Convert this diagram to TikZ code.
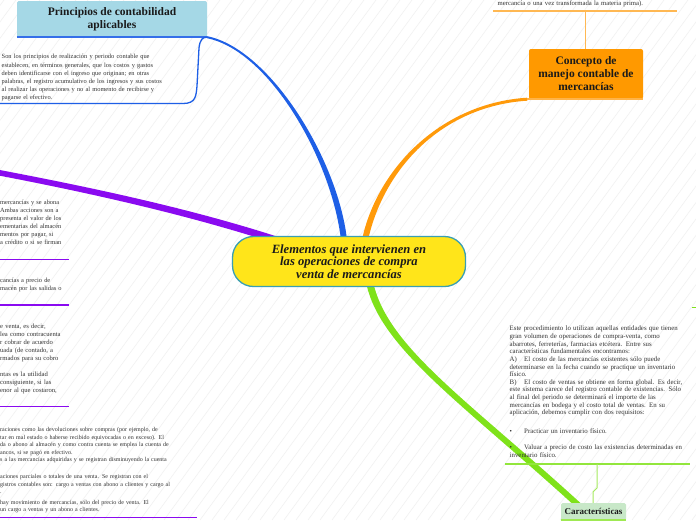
\documentclass[tikz,border=0pt]{standalone}
\usepackage{fontspec}
\setmainfont{Liberation Serif}
\usetikzlibrary{calc}
\definecolor{bluebr}{HTML}{1E5FE6}
\definecolor{orangebr}{HTML}{FF9A0A}
\definecolor{purplebr}{HTML}{8A0AF0}
\definecolor{greenbr}{HTML}{7FE21A}
\definecolor{boxblue}{HTML}{A5D8E6}
\definecolor{boxorange}{HTML}{FF9900}
\definecolor{boxgreen}{HTML}{C8E8C8}
\definecolor{centerfill}{HTML}{FFE51A}
\definecolor{centerline}{HTML}{3A9FB2}
\definecolor{txt}{HTML}{333333}
\definecolor{ttl}{HTML}{1A1A1A}
\definecolor{stripecol}{HTML}{F1F1F1}
\pgfdeclarelayer{bg}
\pgfsetlayers{bg,main}
\newcommand{\taper}[7]{%
  \path ($(#2)!#6!90:(#3)$) coordinate (tpa) ($(#2)!#6!-90:(#3)$) coordinate (tpb)
        ($(#5)!#7!-90:(#4)$) coordinate (tpc) ($(#5)!#7!90:(#4)$) coordinate (tpd);
  \fill[#1] (tpa) .. controls ($(#3)+(tpa)-(#2)$) and ($(#4)+(tpc)-(#5)$) .. (tpc)
     -- (tpd) .. controls ($(#4)+(tpd)-(#5)$) and ($(#3)+(tpb)-(#2)$) .. (tpb) -- cycle;
  \fill[#1] (#5) circle[radius=#7];
  \fill[#1] (#2) circle[radius=#6];
}
\tikzset{
  smalltext/.style 2 args={font=\fontsize{#1}{#2}\selectfont, text=txt, inner sep=0pt,
     align=left, text width=260pt, anchor=base west},
  topic/.style={font=\fontsize{11.5}{13}\selectfont\bfseries, text=ttl, align=center, inner sep=0pt},
  centernode/.style={fill=centerfill, draw=centerline, line width=1.3pt, rounded corners=21pt,
     minimum width=233pt, minimum height=50pt, align=center, inner sep=0pt, text=ttl,
     font=\fontsize{12.6}{12.5}\selectfont\bfseries\itshape},
  stripe/.style={draw=stripecol, line width=0.6pt},
  uline/.style={line width=1.3pt},
}
\begin{document}
\begin{tikzpicture}[x=1pt,y=-1pt]
\useasboundingbox (0,0) rectangle (696,520);
% nodes
\node[centernode] (center) at (349,261.5) {Elementos que intervienen en\\las operaciones de compra\\venta de mercancías};
\node[topic, fill=boxblue, minimum width=190pt, minimum height=36pt, rounded corners=1.5pt] (princ) at (112,19) {Principios de contabilidad\\aplicables};
\node[topic, fill=boxorange, minimum width=114pt, minimum height=50pt, rounded corners=2pt] (concepto) at (586,74) {Concepto de\\manejo contable de\\mercancías};
\node[topic, fill=boxgreen, minimum width=65pt, minimum height=17pt, rounded corners=1.5pt, font=\fontsize{9}{10}\selectfont\bfseries] (caract) at (593.5,511.5) {Características};
% text blocks
\node[smalltext={6.4}{8.2}] (tprinc) at (1.5,58.8) {Son los principios de realización y periodo contable que\\establecen, en términos generales, que los costos y gastos\\deben identificarse con el ingreso que originan; en otras\\palabras, el registro acumulativo de los ingresos y sus costos\\al realizar las operaciones y no al momento de recibirse y\\pagarse el efectivo.};
\node[smalltext={6.7}{7.6}] (tconc) at (497.5,5.8) {mercancía o una vez transformada la materia prima).};
\node[smalltext={6.4}{8}] (ta) at (0,204.8) {mercancías y se abona\\Ambas acciones son a\\presenta el valor de los\\ementarias del almacén\\mentos por pagar, si\\a crédito o si se firman};
\node[smalltext={6.4}{7.4}] (tb) at (0,282.8) {cancías a precio de\\macén por las salidas o};
\node[smalltext={6.6}{8}] (tc) at (0,328.5) {e venta, es decir,\\lea como contracuenta\\r cobrar de acuerdo\\uada (de contado, a\\rmados para su cobro\\[8pt]ntas es la utilidad\\consiguiente, si las\\enor al que costaron,};
\node[smalltext={6.0}{7.6}] (td) at (0,431.5) {raciones como las devoluciones sobre compras (por ejemplo, de\\tar en mal estado o haberse recibido equivocadas o en exceso). El\\da o abono al almacén y como contra cuenta se emplea la cuenta de\\ancos, si se pagó en efectivo.\\s a las mercancías adquiridas y se registran disminuyendo la cuenta\\[9pt]aciones parciales o totales de una venta. Se registran con el\\gistros contables son: cargo a ventas con abono a clientes y cargo al\\.\\[3pt] hay movimiento de mercancías, sólo del precio de venta. El\\ un cargo a ventas y un abono a clientes.};
\node[smalltext={6.85}{7.64}] (tcar) at (509.5,330.8) {Este procedimiento lo utilizan aquellas entidades que tienen\\gran volumen de operaciones de compra-venta, como\\abarrotes, ferreterías, farmacias etcétera. Entre sus\\características fundamentales encontramos:\\\makebox[14.5pt][l]{A)}El costo de las mercancías existentes sólo puede\\determinarse en la fecha cuando se practique un inventario\\físico.\\\makebox[14.5pt][l]{B)}El costo de ventas se obtiene en forma global. Es decir,\\este sistema carece del registro contable de existencias. Sólo\\al final del periodo se determinará el importe de las\\mercancías en bodega y el costo total de ventas. En su\\aplicación, debemos cumplir con dos requisitos:\\[11pt]\makebox[14.5pt][l]{•}Practicar un inventario físico.\\[8.5pt]\makebox[14.5pt][l]{•}Valuar a precio de costo las existencias determinadas en\\inventario físico.};
% coordinates
\coordinate (bS) at (344,240);
\coordinate (oS) at (365,240);
\coordinate (pS) at (300,248);
\coordinate (pE) at (-10,171);
\coordinate (gS) at (370,284);
\coordinate (gE) at (588,514);
\coordinate (oE) at ($(concepto.south west)+(-2,0)$);
\coordinate (blineL) at (0,103.5);
\coordinate (blineR) at (183,103.5);
\coordinate (olineL) at (493,11);
\coordinate (olineR) at (677,11);
\coordinate (olineM) at (585.5,11);
\coordinate (glineL) at (505,464);
\coordinate (glineR) at (690,464);
\coordinate (glineM) at (597,464);
\begin{pgfonlayer}{bg}
\begin{scope}
\clip (0,0) rectangle (696,520);
\fill[white] (0,0) rectangle (696,520);
\foreach \i in {-400,-388,...,700} \draw[stripe] (\i,520) -- ++(380,-520);
% main branches
\taper{bluebr}{bS}{335,160}{270,50}{princ.south east}{3pt}{1pt}
\taper{orangebr}{oS}{380,170}{440,105}{oE}{3pt}{1.5pt}
\taper{purplebr}{pS}{200,213}{80,188}{pE}{3.5pt}{2.8pt}
\taper{greenbr}{gS}{385,350}{470,405}{gE}{3.5pt}{3pt}
\end{scope}
\end{pgfonlayer}
% box bottom borders
\draw[bluebr!90!white, line width=2pt] (princ.south west) -- (princ.south east);
\draw[orangebr!75!white, line width=1.5pt] (oE) -- (concepto.south east);
\draw[greenbr!75!white, line width=1.5pt] (caract.south west) -- (caract.south east);
% sub connectors and underlines
\draw[bluebr, uline] (blineL) -- (blineR) .. controls (196,103.5) and (196,96) .. (197,86) -- (199,48) .. controls (200,39) and (203,37) .. (princ.south east);
\draw[orangebr!70!white, uline] (olineL) -- (olineR);
\draw[orangebr!70!white, line width=1pt] (olineM) -- (concepto.north -| olineM);
\draw[purplebr, uline] (ta.base west |- 0,259.3) -- ++(69,0);
\draw[purplebr, uline] (tb.base west |- 0,305) -- ++(69,0);
\draw[purplebr, uline] (tc.base west |- 0,406.5) -- ++(69,0);
\draw[purplebr, uline] (td.base west |- 0,517.7) -- ++(197,0);
\draw[greenbr!85!white, line width=1.5pt] (glineL) -- (glineR);
\draw[greenbr!70!white, line width=1pt] (glineM) -- (597,488) -- (593,492) -- (caract.north -| 593,0);
\draw[greenbr, line width=1.3pt] (692,307.5) -- (696,307.5);
\end{tikzpicture}
\end{document}
